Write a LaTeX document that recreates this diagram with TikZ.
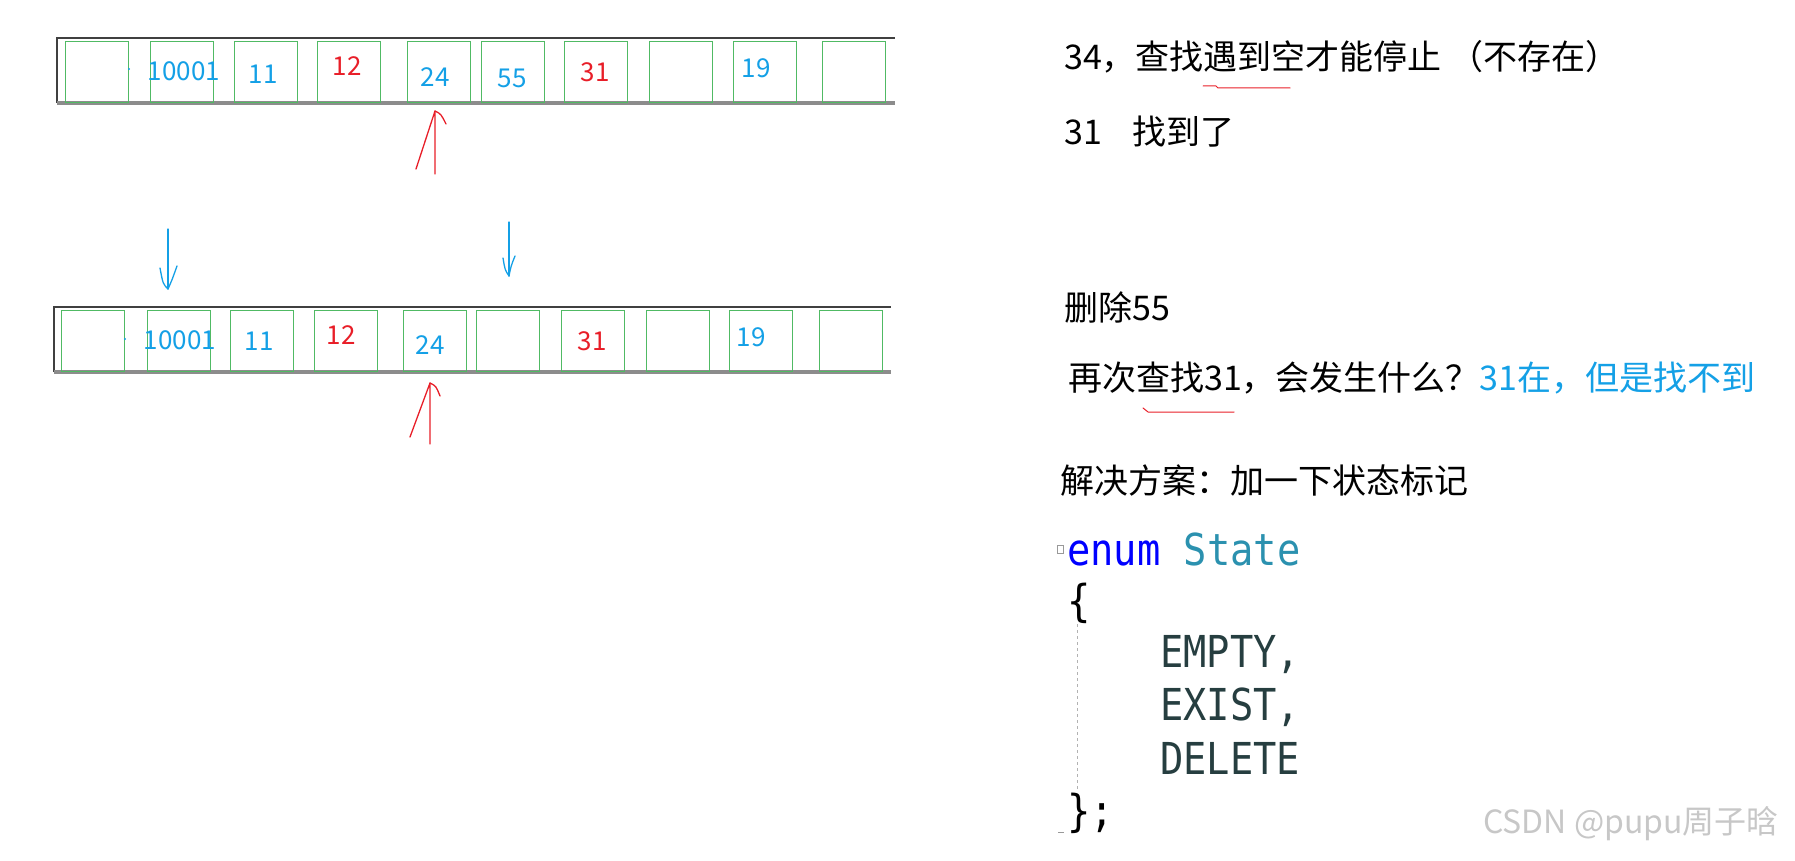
\documentclass[tikz,border=0pt]{standalone}
\usepackage{fontspec}
\setmainfont{Noto Sans CJK SC}
\newfontfamily\codefont[FakeStretch=0.88]{DejaVu Sans Mono}

\definecolor{cellGreen}{RGB}{80,186,100}
\definecolor{numBlue}{RGB}{20,160,230}
\definecolor{numRed}{RGB}{232,30,40}
\definecolor{kwBlue}{RGB}{0,0,255}
\definecolor{typeTeal}{RGB}{43,145,175}
\definecolor{enumDark}{RGB}{38,62,64}

\begin{document}
\begin{tikzpicture}[
        x=1pt, y=-1pt,
        cell/.style={rectangle, draw=cellGreen, line width=1.8pt, minimum width=63pt, minimum height=61pt, inner sep=0pt},
        blueNum/.style={text=numBlue, inner sep=0pt, font=\fontsize{26}{30}\selectfont},
        redNum/.style={text=numRed, inner sep=0pt, font=\fontsize{26}{30}\selectfont},
        note/.style={anchor=west, inner sep=0pt, font=\fontsize{34}{40}\selectfont},
        codeLine/.style={anchor=west, inner sep=0pt, font=\codefont\fontsize{44}{50}\selectfont},
        redPen/.style={draw=numRed, line width=1.3pt, line cap=round, line join=round},
        bluePen/.style={draw=numBlue, line width=1.3pt, line cap=round, line join=round}
    ]
        \useasboundingbox (0,0) rectangle (1795,861);

        % table before the delete
        \draw[black!75, line width=1.4pt] (57,103) -- (57,38) -- (895,38);
        \draw[black!45, line width=3.5pt] (57,103) -- (895,103);
        \node[cell] (cellA1) at (97,72) {};
        \node[cell] (cellA2) at (182,72) {};
        \node[cell] (cellA3) at (266,72) {};
        \node[cell] (cellA4) at (349,72) {};
        \node[cell] (cellA5) at (439,72) {};
        \node[cell] (cellA6) at (513,72) {};
        \node[cell] (cellA7) at (596,72) {};
        \node[cell] (cellA8) at (681,72) {};
        \node[cell] (cellA9) at (765,72) {};
        \node[cell] (cellA10) at (854,72) {};
        \node[blueNum] (numA2) at (184,71) {10001};
        \node[blueNum] (numA3) at (263,74) {11};
        \node[redNum] (numA4) at (347,66) {12};
        \node[blueNum] (numA5) at (435,77) {24};
        \node[blueNum] (numA6) at (512,78) {55};
        \node[redNum] (numA7) at (595,72) {31};
        \node[blueNum] (numA9) at (756,68) {19};
        \fill[numBlue] (129,69) circle (1.2pt);

        % table after the delete
        \draw[black!75, line width=1.4pt] (54,372) -- (54,307) -- (891,307);
        \draw[black!45, line width=3.5pt] (54,372) -- (891,372);
        \node[cell] (cellB1) at (93,341) {};
        \node[cell] (cellB2) at (179,341) {};
        \node[cell] (cellB3) at (262,341) {};
        \node[cell] (cellB4) at (346,341) {};
        \node[cell] (cellB5) at (435,341) {};
        \node[cell] (cellB6) at (508,341) {};
        \node[cell] (cellB7) at (593,341) {};
        \node[cell] (cellB8) at (678,341) {};
        \node[cell] (cellB9) at (761,341) {};
        \node[cell] (cellB10) at (851,341) {};
        \node[blueNum] (numB2) at (180,340) {10001};
        \node[blueNum] (numB3) at (259,341) {11};
        \node[redNum] (numB4) at (341,335) {12};
        \node[blueNum] (numB5) at (430,345) {24};
        \node[redNum] (numB7) at (592,341) {31};
        \node[blueNum] (numB9) at (751,337) {19};
        \fill[numBlue] (125,339) circle (1.2pt);

        % hand drawn pointers
        \coordinate (findTail) at (435,174);
        \coordinate (findTip) at (435,111);
        \draw[redPen] (findTail) -- (findTip) -- (416,169);
        \draw[redPen] (findTip) .. controls (441,114) .. (446,124);
        \coordinate (againTail) at (430,444);
        \coordinate (againTip) at (430,383);
        \draw[redPen] (againTail) -- (againTip) -- (410,437);
        \draw[redPen] (againTip) .. controls (436,386) .. (440,396);
        \coordinate (hashTail) at (168,229);
        \coordinate (hashTip) at (168,289);
        \draw[bluePen] (hashTail) -- (hashTip);
        \draw[bluePen] (160,268) .. controls (163,284) .. (hashTip) .. controls (172,280) .. (177,266);
        \coordinate (gapTail) at (509,222);
        \coordinate (gapTip) at (509,276);
        \draw[bluePen] (gapTail) -- (gapTip);
        \draw[bluePen] (503,258) .. controls (505,270) .. (gapTip) .. controls (511,266) .. (515,256);

        % notes on the right
        \node[note] (lookup) at (1064,57) {34，查找遇到空才能停止 （不存在）};
        \draw[redPen, line width=1pt] (1203,86) -- (1216,86) -- (1218,88) -- (1290,88);
        \node[note] (found) at (1064,132) {31\hspace{0.9em}找到了};
        \node[note] (remove) at (1064,307) {删除55};
        \node[note] (again) at (1068,378) {再次查找31，会发生什么？\textcolor{numBlue}{31在，但是找不到}};
        \draw[redPen, line width=1pt] (1143,408) -- (1148,412) -- (1234,412);
        \node[note] (fix) at (1060,481) {解决方案：加一下状态标记};

        % code
        \draw[black!40, line width=0.6pt] (1057,545) rectangle (1063,553);
        \node[codeLine] (enumHead) at (1067,549) {\textcolor{kwBlue}{enum} \textcolor{typeTeal}{State}};
        \node[codeLine] (braceOpen) at (1067,603) {\{};
        \draw[black!30, line width=1pt, dashed] (1077,624) -- (1077,790);
        \node[codeLine, text=enumDark] (stEmpty) at (1160,655) {EMPTY,};
        \node[codeLine, text=enumDark] (stExist) at (1160,707) {EXIST,};
        \node[codeLine, text=enumDark] (stDelete) at (1160,758) {DELETE};
        \node[codeLine] (braceClose) at (1067,813) {\};};
        \draw[black!40, line width=0.8pt] (1058,832) -- (1064,832);

        \node[text=black!22, inner sep=0pt, font=\fontsize{32}{36}\selectfont] (mark) at (1631,824) {CSDN @pupu周子晗};
    \end{tikzpicture}
\end{document}
